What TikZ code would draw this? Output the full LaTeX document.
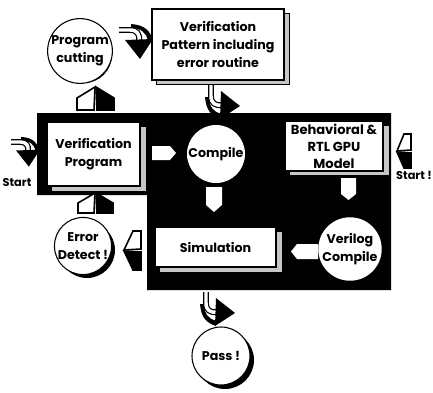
\documentclass[tikz,border=0pt]{standalone}
\usepackage{fontspec}
\setmainfont{Poppins}
\newcommand{\mybend}{%
  \fill[black] (-6,12) .. controls (-5,26) and (1,31) .. (10,34) -- (10,29) .. controls (3,27) and (-2,22) .. (-2,12) -- cycle;
  \draw[shaft] (0,0) -- (0,11) .. controls (0,18) and (4,21) .. (11,20);
  \fill[black] (10,6) -- (29,21) -- (9,34) -- cycle;
}
\begin{document}
\begin{tikzpicture}[x=0.75pt,y=-0.75pt,
  every node/.style={font=\bfseries\fontsize{9.5}{13.5}\selectfont, text=black},
  box/.style={draw=black, line width=0.8pt, fill=white, align=center, inner sep=0pt},
  band/.style={fill=gray!45, draw=black, line width=0.6pt},
  circ/.style={circle, draw=black, line width=0.8pt, fill=white, align=center, inner sep=0pt},
  wcirc/.style={circle, fill=white, align=center, inner sep=0pt},
  halfw/.style={fill=white, draw=black, line width=1.2pt, line join=miter},
  halfb/.style={fill=black, draw=black, line width=1.2pt, line join=miter},
  shaft/.style={draw=black, line width=0.9pt, double=white, double distance=2.6pt}
]
\useasboundingbox (0,0) rectangle (433,393);

% black background
\fill[black] (37,113) -- (391,113) -- (391,290) -- (147,290) -- (147,195) -- (37,195) -- cycle;

% box shadows (3D bands)
\path[band] (156,13) rectangle (289,84);
\path[band] (51,126) rectangle (146,191);
\path[band] (289,125) rectangle (389,175);
\path[band] (159,231) rectangle (282,272);

% boxes
\node[box, minimum width=99pt, minimum height=53.25pt] (vp) at (218,44.5) {Verification\\Pattern including\\error routine};
\node[box, minimum width=69.75pt, minimum height=48pt] (vprog) at (93.5,154) {Verification\\Program};
\node[box, minimum width=73.5pt, minimum height=37.5pt, font=\bfseries\fontsize{9.8}{12.75}\selectfont] (behav) at (334,146) {Behavioral \&\\RTL GPU\\Model};
\node[box, minimum width=90.75pt, minimum height=30pt] (sim) at (215.5,247) {Simulation};

% circle shadows
\fill[black] (84,55) circle[radius=28];
\fill[black] (87,250) circle[radius=28];
\fill[black] (225,360) circle[radius=29];

% circles
\node[circ, minimum size=42pt] (pc) at (80,51) {Program\\cutting};
\node[wcirc, minimum size=43.5pt] (comp) at (216,154) {Compile};
\node[circ, minimum size=42pt] (err) at (83,246) {Error\\Detect !};
\node[circ, minimum size=43.5pt] (pass) at (221,356) {Pass !};
\node[wcirc, minimum size=40.5pt] (vc) at (350,249) {Verilog\\Compile};

% start labels
\node[font=\bfseries\fontsize{8.5}{10}\selectfont] (startl) at (17,183) {Start};
\node[font=\bfseries\fontsize{8.5}{10}\selectfont] (startr) at (414,175) {Start !};

% white block arrows on black
\fill[white] (152,146) -- (170,146) -- (176,153) -- (170,160) -- (152,160) -- cycle;
\fill[white] (206,187) -- (222,187) -- (222,205) -- (214,212) -- (206,205) -- cycle;
\fill[white] (341,178) -- (356,178) -- (356,194) -- (348.5,200) -- (341,194) -- cycle;
\fill[white] (318,244) -- (297,244) -- (291,251.5) -- (297,259) -- (318,259) -- cycle;

% 3D up arrows
\path[halfw] (95,87) -- (77,98) -- (77,110) -- (94,110) -- cycle;
\path[halfb] (96,87) -- (114,98) -- (114,110) -- (97,110) -- cycle;
\path[halfw] (95,193) -- (78,203) -- (78,213) -- (94,213) -- cycle;
\path[halfb] (96,193) -- (113,203) -- (113,213) -- (97,213) -- cycle;

% 3D left chevrons
\path[halfw] (124,250) -- (133,231) -- (141,231) -- (141,249) -- cycle;
\path[halfb] (124,251) -- (133,270) -- (141,270) -- (141,252) -- cycle;
\path[halfw] (397,151) -- (404,134) -- (411,134) -- (411,150) -- cycle;
\path[halfb] (397,152) -- (404,168) -- (411,168) -- (411,153) -- cycle;

% curved 3D arrows
\begin{scope}[shift={(211,85)}]
  \mybend
\end{scope}
\begin{scope}[shift={(206,292)}]
  \mybend
\end{scope}
\begin{scope}[shift={(119,30)}, cm={0,-1,-1,0,(0,0)}]
  \mybend
\end{scope}
\begin{scope}[shift={(11,142)}, cm={0,-0.85,-0.85,0,(0,0)}]
  \mybend
\end{scope}
\end{tikzpicture}
\end{document}
